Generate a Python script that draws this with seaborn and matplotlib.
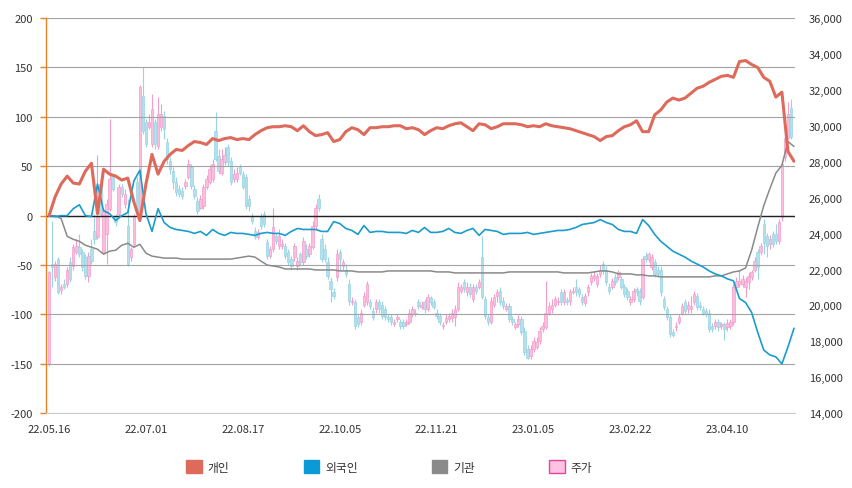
import numpy as np
import pandas as pd
import matplotlib
matplotlib.use("Agg")
import matplotlib.pyplot as plt
import seaborn as sns
from matplotlib.patches import Patch
from matplotlib.ticker import FuncFormatter

# ---------------- data ----------------
date_labels = ["22.05.16", "22.07.01", "22.08.17", "22.10.05",
               "22.11.21", "23.01.05", "23.02.22", "23.04.10"]
series_names = ["개인", "외국인", "기관", "주가"]

# cumulative net buying (left axis), sampled every 2 trading days
individual = [0, 19, 32, 40, 33, 32, 45, 53, 2, 47,
              42, 40, 36, 38, 14, -5, 32, 62, 42, 55,
              62, 67, 66, 71, 75, 74, 72, 78, 76, 78,
              79, 77, 78, 77, 82, 86, 89, 90, 90, 91,
              90, 86, 91, 85, 81, 82, 84, 75, 77, 85,
              89, 87, 82, 89, 89, 90, 90, 91, 91, 88,
              89, 87, 82, 86, 89, 88, 91, 93, 94, 90,
              86, 93, 92, 88, 90, 93, 93, 93, 92, 90,
              91, 90, 93, 91, 90, 89, 88, 86, 84, 82,
              80, 76, 80, 81, 86, 90, 92, 96, 85, 85,
              102, 107, 115, 119, 117, 119, 124, 129, 131, 135,
              138, 141, 142, 140, 156, 157, 153, 150, 140, 136,
              120, 125, 65, 55]
foreign = [0, -1, 0, 0, 7, 11, 0, -1, 32, 5,
           2, -5, 0, 3, 35, 46, 2, -16, 7, -7,
           -12, -14, -15, -16, -18, -16, -20, -14, -18, -20,
           -17, -18, -18, -19, -20, -18, -17, -18, -18, -20,
           -16, -13, -14, -14, -14, -16, -16, -6, -8, -13,
           -15, -19, -10, -17, -16, -16, -17, -17, -17, -18,
           -15, -17, -12, -17, -17, -16, -13, -17, -18, -15,
           -13, -20, -14, -15, -16, -19, -18, -18, -18, -17,
           -19, -18, -17, -16, -15, -15, -14, -12, -9, -8,
           -7, -4, -7, -9, -14, -16, -16, -18, -4, -10,
           -19, -26, -31, -36, -39, -42, -46, -49, -52, -56,
           -59, -61, -64, -66, -84, -88, -98, -118, -136, -141,
           -143, -150, -133, -114]
institution = [0, 0, -3, -21, -24, -26, -30, -32, -34, -39,
               -36, -35, -30, -28, -32, -29, -38, -41, -42, -43,
               -43, -43, -44, -44, -44, -44, -44, -44, -44, -44,
               -44, -43, -42, -41, -42, -46, -50, -51, -52, -54,
               -54, -54, -54, -54, -55, -55, -55, -55, -56, -56,
               -56, -57, -57, -57, -57, -57, -56, -56, -56, -56,
               -56, -56, -56, -56, -57, -57, -57, -58, -58, -58,
               -58, -58, -58, -58, -58, -58, -57, -57, -57, -57,
               -57, -57, -57, -57, -57, -58, -58, -58, -58, -58,
               -57, -56, -56, -57, -59, -59, -59, -60, -60, -61,
               -61, -62, -62, -62, -62, -62, -62, -62, -62, -62,
               -61, -61, -59, -57, -56, -53, -35, -12, 10, 27,
               43, 51, 75, 70]

# daily candles (right axis)
open_ = [16750, 22300, 21600, 22600, 20850, 21200, 21200, 22400, 22200, 23000,
         23250, 23000, 22700, 21650, 23150, 24150, 23800, 26750, 23000, 23950,
         25350, 27200, 24900, 25100, 26600, 25650, 24400, 22700, 23400, 26900,
         25100, 31650, 30200, 29950, 29000, 30200, 28850, 29950, 30550, 29100,
         28050, 27500, 26900, 26500, 26350, 26650, 27150, 27700, 26500, 25800,
         25450, 25550, 26600, 26900, 27050, 29700, 28300, 27400, 28000, 28800,
         28050, 27050, 27050, 27700, 27300, 27150, 25900, 24900, 24150, 23800,
         24900, 25100, 23550, 22750, 23150, 23850, 23300, 23300, 23300, 22950,
         22600, 22700, 22200, 22850, 22400, 23150, 22850, 23250, 24400, 25900,
         23700, 23150, 22400, 21350, 20750, 21600, 22950, 22200, 22000, 21200,
         20200, 20200, 19350, 19050, 20050, 20200, 20200, 19700, 19800, 20200,
         20050, 19800, 19350, 19350, 18950, 19250, 19050, 19050, 18950, 19050,
         19500, 19600, 20200, 19900, 20200, 19800, 20400, 20200, 19600, 19400,
         18850, 19050, 19250, 19300, 19350, 19800, 20800, 21300, 20750, 21050,
         20350, 21000, 21000, 22700, 20350, 19350, 19100, 20050, 20500, 20800,
         20250, 19800, 19950, 19250, 18800, 18950, 19250, 18550, 17550, 17200,
         17550, 17700, 18000, 18700, 18800, 19600, 19800, 20050, 20200, 20750,
         20200, 20300, 20250, 20750, 21000, 20900, 20450, 20150, 20750, 21300,
         21500, 21200, 21750, 22300, 22000, 21050, 21050, 21600, 21600, 21450,
         21000, 20800, 20200, 20350, 20900, 20800, 20450, 22750, 22600, 22150,
         22400, 22000, 22000, 20350, 19800, 19350, 18500, 18800, 19100, 19600,
         20200, 19800, 19800, 20200, 20500, 20050, 19800, 19700, 19600, 18850,
         18850, 19050, 18850, 18950, 18800, 18850, 19050, 21050, 21200, 21200,
         21000, 21300, 21600, 22000, 22950, 22950, 24550, 23850, 23400, 23950,
         23950, 23600, 24900, 28250, 29350, 31000]
close_ = [21850, 22150, 22300, 20750, 21000, 21000, 22000, 21450, 23250, 23300,
          22850, 22150, 21650, 22750, 22450, 23700, 24950, 25100, 25250, 25650,
          27050, 26500, 24650, 26600, 26200, 26200, 22300, 23150, 24900, 25250,
          32150, 29700, 29000, 30200, 30950, 29000, 30650, 30650, 29800, 28150,
          27600, 26900, 26300, 26200, 26100, 26850, 27850, 26650, 26100, 25250,
          25900, 26600, 27050, 27600, 27850, 28150, 27500, 28150, 28400, 28000,
          26850, 27300, 27400, 27400, 26600, 25550, 25550, 24700, 23800, 24100,
          24400, 24550, 22750, 23150, 24350, 23600, 23850, 23400, 22750, 22400,
          22200, 23300, 22450, 22400, 23600, 22750, 23300, 24400, 25450, 25450,
          22600, 22600, 21650, 20900, 20500, 22850, 22600, 22400, 21750, 20250,
          20250, 18850, 18950, 19600, 20500, 21200, 19950, 19350, 20200, 19800,
          19400, 19350, 19250, 19050, 19050, 19350, 18850, 18850, 19050, 19600,
          19800, 19500, 19950, 20050, 19800, 20450, 20200, 19900, 19400, 19050,
          18900, 19300, 19400, 19600, 19800, 21050, 21000, 20900, 21050, 20650,
          21000, 20800, 21300, 20450, 19400, 19050, 20250, 20450, 20750, 20200,
          19950, 19950, 19250, 19050, 18950, 19250, 18500, 17400, 17100, 17550,
          18000, 17950, 18550, 18850, 19600, 19950, 20050, 20350, 20250, 20200,
          20750, 20200, 20750, 20800, 20750, 20650, 20200, 20500, 21000, 21650,
          21700, 21650, 22000, 21900, 21300, 20800, 21350, 21300, 21850, 21050,
          20650, 20450, 20350, 20800, 20750, 20250, 22600, 22600, 22850, 22700,
          21750, 21750, 20750, 19900, 19350, 18400, 18350, 18850, 19350, 19950,
          19700, 20050, 19950, 20650, 19900, 19900, 19600, 19500, 18700, 18700,
          19050, 18800, 18950, 18700, 19000, 19050, 21000, 21350, 21350, 21450,
          21350, 21650, 21850, 22450, 22150, 23300, 23500, 23300, 23700, 23400,
          23600, 24650, 27850, 29350, 30650, 29400]
high_ = [21900, 24700, 22450, 22700, 21200, 21450, 22150, 22700, 23400, 23700,
         23950, 23150, 22850, 23000, 23700, 25100, 28400, 27050, 25350, 25900,
         30400, 27300, 25100, 26750, 26750, 26500, 25900, 23250, 25100, 27150,
         32300, 33250, 30400, 30650, 31750, 30400, 31600, 31200, 30800, 29350,
         28250, 27700, 27150, 26700, 26600, 27050, 28150, 27850, 26700, 26050,
         26150, 26750, 27250, 27800, 28150, 30750, 28700, 28700, 28800, 29000,
         28250, 27600, 27700, 27850, 27500, 27300, 26150, 25150, 24350, 24250,
         25150, 25250, 23700, 23300, 25450, 24050, 24250, 23700, 23450, 23150,
         22750, 23450, 22700, 23000, 23800, 23400, 23500, 24700, 25650, 26200,
         23950, 23400, 22700, 21600, 20950, 23150, 23150, 22600, 22300, 21450,
         20450, 20350, 19500, 19800, 20750, 21350, 20350, 19900, 20350, 20350,
         20250, 19950, 19500, 19500, 19250, 19500, 19250, 19250, 19250, 19800,
         19950, 19800, 20350, 20250, 20350, 20650, 20550, 20350, 19800, 19600,
         19050, 19500, 19600, 19800, 20050, 21300, 21200, 21450, 21300, 21250,
         21200, 21200, 21450, 23850, 20500, 19500, 20450, 20650, 20900, 21000,
         20450, 20150, 20150, 19400, 19100, 19450, 19400, 18800, 17800, 17800,
         18250, 18250, 18800, 19050, 21350, 20200, 20350, 20550, 20450, 20900,
         20900, 20450, 20900, 21000, 21450, 21050, 20650, 20700, 21200, 21800,
         21900, 21800, 22250, 22450, 22200, 21250, 21500, 21750, 22000, 21650,
         21200, 20950, 20500, 20950, 21050, 20950, 22750, 23000, 23000, 22850,
         22600, 22200, 22200, 20500, 19950, 19500, 18700, 19050, 19550, 20150,
         20350, 20250, 20550, 20800, 20700, 20250, 19950, 19850, 19800, 19000,
         19250, 19250, 19100, 19100, 19250, 19250, 21200, 21600, 22000, 21700,
         21600, 21850, 22000, 22700, 23150, 23500, 24800, 24050, 23900, 24150,
         24550, 24800, 28050, 29550, 31300, 31500]
low_ = [16650, 21000, 21350, 20650, 20650, 20900, 21050, 21300, 22000, 22850,
        22700, 21900, 21450, 21300, 22300, 23400, 23700, 24900, 22850, 22300,
        25250, 26350, 24450, 24900, 26050, 25450, 22200, 22450, 23250, 25100,
        24900, 29550, 28800, 29800, 28800, 28700, 28700, 29700, 29250, 27850,
        27300, 26500, 26100, 26050, 25900, 26500, 27050, 26500, 25900, 25100,
        25350, 25350, 26500, 26750, 26900, 28050, 27300, 27250, 27800, 27750,
        26700, 26850, 26900, 27250, 26500, 25350, 25250, 24550, 23700, 23700,
        24250, 24350, 22600, 22650, 23000, 23400, 23150, 23150, 22600, 22250,
        22000, 22500, 22000, 22250, 22250, 22600, 22700, 23150, 24250, 25250,
        22400, 22400, 21450, 20200, 20350, 21350, 22000, 22000, 21600, 20050,
        20000, 18700, 18800, 18900, 19900, 20000, 19800, 19200, 19600, 19600,
        19250, 19200, 19050, 18900, 18850, 19100, 18700, 18700, 18850, 18950,
        19350, 19400, 19800, 19800, 19600, 19700, 20000, 19800, 19250, 18900,
        18700, 18950, 19100, 19100, 18850, 19700, 20700, 20750, 20550, 20450,
        20200, 20650, 20900, 20350, 19250, 18900, 18950, 19900, 20200, 20000,
        19800, 19700, 19050, 18900, 18700, 18800, 18350, 17250, 17000, 17000,
        17400, 17550, 17850, 18500, 18700, 19450, 19600, 19900, 20000, 20000,
        20000, 20000, 20050, 20650, 20550, 20450, 20000, 19950, 20550, 21150,
        21350, 21000, 21600, 21750, 21150, 20650, 20900, 21150, 21400, 20900,
        20450, 20300, 20000, 20200, 20550, 20050, 20350, 22400, 22400, 21950,
        21600, 21600, 20550, 19750, 19200, 18250, 18250, 18600, 18950, 19450,
        19500, 19600, 19600, 20000, 19750, 19750, 19450, 19350, 18500, 18500,
        18700, 18600, 18700, 18100, 18600, 18700, 18900, 20900, 21000, 21000,
        20450, 20900, 21400, 21850, 21450, 22800, 22850, 22700, 23150, 23250,
        23400, 23400, 24700, 28050, 29250, 29250]

# ---------------- style ----------------
sns.set_theme(style="white")
plt.rcParams["font.family"] = ["Noto Sans CJK KR", "DejaVu Sans"]
plt.rcParams["axes.unicode_minus"] = False

C_IND = "#de6a5b"
C_FOR = "#1a9ccd"
C_INS = "#8a8a8a"
C_UP_FILL, C_UP_EDGE = "#fbbedd", "#f59ccb"
C_DN_FILL, C_DN_EDGE = "#b3e0ec", "#98d4e4"
C_AXIS = "#e8822a"
TXT = "#333333"

fig = plt.figure(figsize=(8.52, 4.89), dpi=100)
ax = fig.add_axes([0.054, 0.153, 0.879, 0.808])
ax2 = ax.twinx()

# ---------------- candles (right axis) ----------------
o = np.array(open_, dtype=float)
c = np.array(close_, dtype=float)
h = np.array(high_, dtype=float)
l = np.array(low_, dtype=float)
xc = np.arange(len(c))
up = c >= o
fills = np.where(up, C_UP_FILL, C_DN_FILL)
edges = np.where(up, C_UP_EDGE, C_DN_EDGE)
ax2.vlines(xc, l, h, colors=edges, linewidth=0.8, zorder=1)
ax2.bar(xc, np.abs(c - o), bottom=np.minimum(o, c), width=0.8,
        color=fills, edgecolor=edges, linewidth=0.5, zorder=2)
ax2.set_ylim(14000, 36000)
ax2.set_yticks(np.arange(14000, 36001, 2000))
ax2.yaxis.set_major_formatter(FuncFormatter(lambda v, p: f"{int(v):,}"))
ax2.tick_params(axis="y", length=0, pad=10, labelsize=8, labelcolor=TXT)
for s in ax2.spines.values():
    s.set_visible(False)

# ---------------- lines (left axis) ----------------
xl = np.arange(len(individual)) * 2
df = pd.DataFrame({"x": xl, "개인": individual, "외국인": foreign, "기관": institution})
sns.lineplot(data=df, x="x", y="기관", ax=ax, color=C_INS, linewidth=1.1, zorder=3)
sns.lineplot(data=df, x="x", y="외국인", ax=ax, color=C_FOR, linewidth=1.2, zorder=4)
sns.lineplot(data=df, x="x", y="개인", ax=ax, color=C_IND, linewidth=2.2, zorder=5)

ax.set_zorder(ax2.get_zorder() + 1)
ax.patch.set_visible(False)

ax.set_ylim(-200, 200)
ax.set_yticks(np.arange(-200, 201, 50))
ax.set_xlim(-1, 246.3)
ax.set_xticks(np.arange(len(date_labels)) * 32)
ax.set_xticklabels(date_labels)
ax.set_xlabel("")
ax.set_ylabel("")
ax.yaxis.grid(True, color="#a3a3a3", linewidth=0.8)
ax.xaxis.grid(False)
ax.axhline(0, color="#222222", linewidth=1.0, zorder=2)

ax.tick_params(axis="y", length=4.5, width=1, color=C_AXIS, direction="out",
               pad=5, labelsize=8, labelcolor=TXT)
ax.tick_params(axis="x", length=4, width=0.8, color="#cccccc", direction="out",
               pad=4, labelsize=8, labelcolor=TXT)
for side in ["top", "right"]:
    ax.spines[side].set_visible(False)
ax.spines["left"].set_color(C_AXIS)
ax.spines["left"].set_linewidth(1.0)
ax.spines["bottom"].set_color("#cccccc")
ax.spines["bottom"].set_linewidth(0.8)

# ---------------- legend ----------------
handles = [Patch(facecolor=C_IND, edgecolor=C_IND),
           Patch(facecolor="#0a9ad6", edgecolor="#0a9ad6"),
           Patch(facecolor=C_INS, edgecolor=C_INS),
           Patch(facecolor="#ffc2e2", edgecolor="#e0489e", linewidth=1)]
fig.legend(handles, series_names, loc="center", bbox_to_anchor=(0.457, 0.043),
           ncol=4, frameon=False, handlelength=1.3, handleheight=1.3,
           handletextpad=0.5, columnspacing=6.3, fontsize=8.5,
           labelcolor=TXT)

fig.savefig("out.png", dpi=100)
